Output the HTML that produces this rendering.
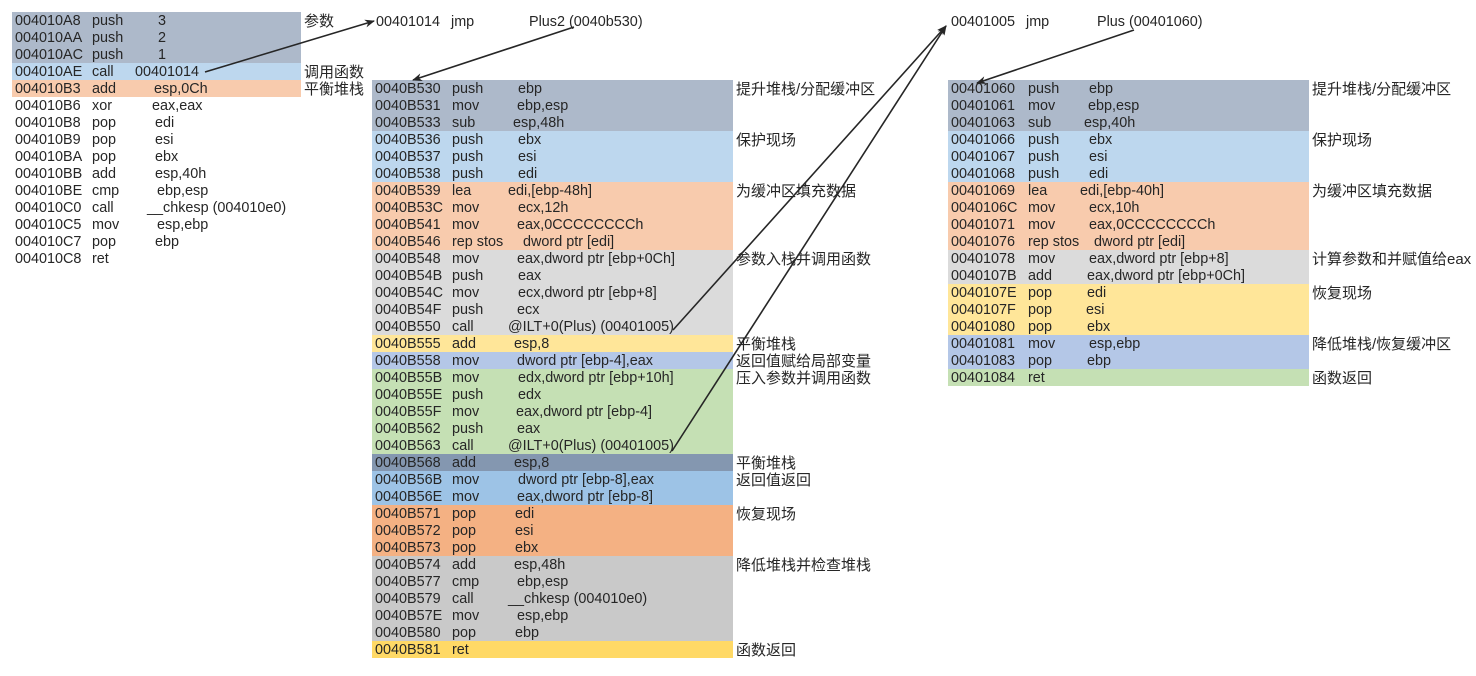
<!DOCTYPE html>
<html><head><meta charset="utf-8"><style>
body{margin:0;width:1476px;height:676px;background:#fff;position:relative;overflow:hidden;font-family:"Liberation Sans","Noto Sans CJK SC",sans-serif;font-size:14.4px;color:#262626}
.r{position:absolute;height:17px;line-height:17px;white-space:nowrap}
.r span{position:absolute;top:1px}
.a{left:3px}.m{left:80px}
.L{left:12px;width:289px}.M{left:372px;width:361px}.R{left:948px;width:361px}
.t{position:absolute;line-height:17px;white-space:nowrap;font-size:15px;margin-top:1px}
svg{position:absolute;left:0;top:0}
</style></head><body>
<!-- Left block -->
<div class="r L" style="top:12px;background:#adb9ca"><span class="a">004010A8</span><span class="m">push</span><span style="left:146px">3</span></div>
<div class="r L" style="top:29px;background:#adb9ca"><span class="a">004010AA</span><span class="m">push</span><span style="left:146px">2</span></div>
<div class="r L" style="top:46px;background:#adb9ca"><span class="a">004010AC</span><span class="m">push</span><span style="left:146px">1</span></div>
<div class="r L" style="top:63px;background:#bdd7ee"><span class="a">004010AE</span><span class="m">call</span><span style="left:123px">00401014</span></div>
<div class="r L" style="top:80px;background:#f8cbad"><span class="a">004010B3</span><span class="m">add</span><span style="left:142px">esp,0Ch</span></div>
<div class="r L" style="top:97px"><span class="a">004010B6</span><span class="m">xor</span><span style="left:140px">eax,eax</span></div>
<div class="r L" style="top:114px"><span class="a">004010B8</span><span class="m">pop</span><span style="left:143px">edi</span></div>
<div class="r L" style="top:131px"><span class="a">004010B9</span><span class="m">pop</span><span style="left:143px">esi</span></div>
<div class="r L" style="top:148px"><span class="a">004010BA</span><span class="m">pop</span><span style="left:143px">ebx</span></div>
<div class="r L" style="top:165px"><span class="a">004010BB</span><span class="m">add</span><span style="left:143px">esp,40h</span></div>
<div class="r L" style="top:182px"><span class="a">004010BE</span><span class="m">cmp</span><span style="left:145px">ebp,esp</span></div>
<div class="r L" style="top:199px"><span class="a">004010C0</span><span class="m">call</span><span style="left:135px">__chkesp (004010e0)</span></div>
<div class="r L" style="top:216px"><span class="a">004010C5</span><span class="m">mov</span><span style="left:145px">esp,ebp</span></div>
<div class="r L" style="top:233px"><span class="a">004010C7</span><span class="m">pop</span><span style="left:143px">ebp</span></div>
<div class="r L" style="top:250px"><span class="a">004010C8</span><span class="m">ret</span></div>
<div class="t" style="left:304px;top:12px">参数</div>
<div class="t" style="left:304px;top:63px">调用函数</div>
<div class="t" style="left:304px;top:80px">平衡堆栈</div>

<!-- Top labels -->
<div class="r" style="left:376px;top:13px"><span style="left:0">00401014</span><span style="left:75px">jmp</span><span style="left:153px">Plus2 (0040b530)</span></div>
<div class="r" style="left:951px;top:13px"><span style="left:0">00401005</span><span style="left:75px">jmp</span><span style="left:146px">Plus (00401060)</span></div>

<!-- Middle block -->
<div class="r M" style="top:80px;background:#adb9ca"><span class="a">0040B530</span><span class="m">push</span><span style="left:146px">ebp</span></div>
<div class="r M" style="top:97px;background:#adb9ca"><span class="a">0040B531</span><span class="m">mov</span><span style="left:145px">ebp,esp</span></div>
<div class="r M" style="top:114px;background:#adb9ca"><span class="a">0040B533</span><span class="m">sub</span><span style="left:141px">esp,48h</span></div>
<div class="r M" style="top:131px;background:#bdd7ee"><span class="a">0040B536</span><span class="m">push</span><span style="left:146px">ebx</span></div>
<div class="r M" style="top:148px;background:#bdd7ee"><span class="a">0040B537</span><span class="m">push</span><span style="left:146px">esi</span></div>
<div class="r M" style="top:165px;background:#bdd7ee"><span class="a">0040B538</span><span class="m">push</span><span style="left:146px">edi</span></div>
<div class="r M" style="top:182px;background:#f8cbad"><span class="a">0040B539</span><span class="m">lea</span><span style="left:136px">edi,[ebp-48h]</span></div>
<div class="r M" style="top:199px;background:#f8cbad"><span class="a">0040B53C</span><span class="m">mov</span><span style="left:146px">ecx,12h</span></div>
<div class="r M" style="top:216px;background:#f8cbad"><span class="a">0040B541</span><span class="m">mov</span><span style="left:145px">eax,0CCCCCCCCh</span></div>
<div class="r M" style="top:233px;background:#f8cbad"><span class="a">0040B546</span><span class="m">rep stos</span><span style="left:151px">dword ptr [edi]</span></div>
<div class="r M" style="top:250px;background:#dbdbdb"><span class="a">0040B548</span><span class="m">mov</span><span style="left:145px">eax,dword ptr [ebp+0Ch]</span></div>
<div class="r M" style="top:267px;background:#dbdbdb"><span class="a">0040B54B</span><span class="m">push</span><span style="left:146px">eax</span></div>
<div class="r M" style="top:284px;background:#dbdbdb"><span class="a">0040B54C</span><span class="m">mov</span><span style="left:146px">ecx,dword ptr [ebp+8]</span></div>
<div class="r M" style="top:301px;background:#dbdbdb"><span class="a">0040B54F</span><span class="m">push</span><span style="left:145px">ecx</span></div>
<div class="r M" style="top:318px;background:#dbdbdb"><span class="a">0040B550</span><span class="m">call</span><span style="left:136px">@ILT+0(Plus) (00401005)</span></div>
<div class="r M" style="top:335px;background:#ffe699"><span class="a">0040B555</span><span class="m">add</span><span style="left:142px">esp,8</span></div>
<div class="r M" style="top:352px;background:#b4c7e7"><span class="a">0040B558</span><span class="m">mov</span><span style="left:145px">dword ptr [ebp-4],eax</span></div>
<div class="r M" style="top:369px;background:#c5e0b4"><span class="a">0040B55B</span><span class="m">mov</span><span style="left:146px">edx,dword ptr [ebp+10h]</span></div>
<div class="r M" style="top:386px;background:#c5e0b4"><span class="a">0040B55E</span><span class="m">push</span><span style="left:146px">edx</span></div>
<div class="r M" style="top:403px;background:#c5e0b4"><span class="a">0040B55F</span><span class="m">mov</span><span style="left:144px">eax,dword ptr [ebp-4]</span></div>
<div class="r M" style="top:420px;background:#c5e0b4"><span class="a">0040B562</span><span class="m">push</span><span style="left:145px">eax</span></div>
<div class="r M" style="top:437px;background:#c5e0b4"><span class="a">0040B563</span><span class="m">call</span><span style="left:136px">@ILT+0(Plus) (00401005)</span></div>
<div class="r M" style="top:454px;background:#8497b0"><span class="a">0040B568</span><span class="m">add</span><span style="left:142px">esp,8</span></div>
<div class="r M" style="top:471px;background:#9dc3e6"><span class="a">0040B56B</span><span class="m">mov</span><span style="left:146px">dword ptr [ebp-8],eax</span></div>
<div class="r M" style="top:488px;background:#9dc3e6"><span class="a">0040B56E</span><span class="m">mov</span><span style="left:145px">eax,dword ptr [ebp-8]</span></div>
<div class="r M" style="top:505px;background:#f4b183"><span class="a">0040B571</span><span class="m">pop</span><span style="left:143px">edi</span></div>
<div class="r M" style="top:522px;background:#f4b183"><span class="a">0040B572</span><span class="m">pop</span><span style="left:143px">esi</span></div>
<div class="r M" style="top:539px;background:#f4b183"><span class="a">0040B573</span><span class="m">pop</span><span style="left:143px">ebx</span></div>
<div class="r M" style="top:556px;background:#c9c9c9"><span class="a">0040B574</span><span class="m">add</span><span style="left:142px">esp,48h</span></div>
<div class="r M" style="top:573px;background:#c9c9c9"><span class="a">0040B577</span><span class="m">cmp</span><span style="left:145px">ebp,esp</span></div>
<div class="r M" style="top:590px;background:#c9c9c9"><span class="a">0040B579</span><span class="m">call</span><span style="left:136px">__chkesp (004010e0)</span></div>
<div class="r M" style="top:607px;background:#c9c9c9"><span class="a">0040B57E</span><span class="m">mov</span><span style="left:145px">esp,ebp</span></div>
<div class="r M" style="top:624px;background:#c9c9c9"><span class="a">0040B580</span><span class="m">pop</span><span style="left:143px">ebp</span></div>
<div class="r M" style="top:641px;background:#ffd966"><span class="a">0040B581</span><span class="m">ret</span></div>
<div class="t" style="left:736px;top:80px">提升堆栈/分配缓冲区</div>
<div class="t" style="left:736px;top:131px">保护现场</div>
<div class="t" style="left:736px;top:182px">为缓冲区填充数据</div>
<div class="t" style="left:736px;top:250px">参数入栈并调用函数</div>
<div class="t" style="left:736px;top:335px">平衡堆栈</div>
<div class="t" style="left:736px;top:352px">返回值赋给局部变量</div>
<div class="t" style="left:736px;top:369px">压入参数并调用函数</div>
<div class="t" style="left:736px;top:454px">平衡堆栈</div>
<div class="t" style="left:736px;top:471px">返回值返回</div>
<div class="t" style="left:736px;top:505px">恢复现场</div>
<div class="t" style="left:736px;top:556px">降低堆栈并检查堆栈</div>
<div class="t" style="left:736px;top:641px">函数返回</div>

<!-- Right block -->
<div class="r R" style="top:80px;background:#adb9ca"><span class="a">00401060</span><span class="m">push</span><span style="left:141px">ebp</span></div>
<div class="r R" style="top:97px;background:#adb9ca"><span class="a">00401061</span><span class="m">mov</span><span style="left:140px">ebp,esp</span></div>
<div class="r R" style="top:114px;background:#adb9ca"><span class="a">00401063</span><span class="m">sub</span><span style="left:136px">esp,40h</span></div>
<div class="r R" style="top:131px;background:#bdd7ee"><span class="a">00401066</span><span class="m">push</span><span style="left:141px">ebx</span></div>
<div class="r R" style="top:148px;background:#bdd7ee"><span class="a">00401067</span><span class="m">push</span><span style="left:141px">esi</span></div>
<div class="r R" style="top:165px;background:#bdd7ee"><span class="a">00401068</span><span class="m">push</span><span style="left:141px">edi</span></div>
<div class="r R" style="top:182px;background:#f8cbad"><span class="a">00401069</span><span class="m">lea</span><span style="left:132px">edi,[ebp-40h]</span></div>
<div class="r R" style="top:199px;background:#f8cbad"><span class="a">0040106C</span><span class="m">mov</span><span style="left:141px">ecx,10h</span></div>
<div class="r R" style="top:216px;background:#f8cbad"><span class="a">00401071</span><span class="m">mov</span><span style="left:141px">eax,0CCCCCCCCh</span></div>
<div class="r R" style="top:233px;background:#f8cbad"><span class="a">00401076</span><span class="m">rep stos</span><span style="left:146px">dword ptr [edi]</span></div>
<div class="r R" style="top:250px;background:#dbdbdb"><span class="a">00401078</span><span class="m">mov</span><span style="left:141px">eax,dword ptr [ebp+8]</span></div>
<div class="r R" style="top:267px;background:#dbdbdb"><span class="a">0040107B</span><span class="m">add</span><span style="left:139px">eax,dword ptr [ebp+0Ch]</span></div>
<div class="r R" style="top:284px;background:#ffe699"><span class="a">0040107E</span><span class="m">pop</span><span style="left:139px">edi</span></div>
<div class="r R" style="top:301px;background:#ffe699"><span class="a">0040107F</span><span class="m">pop</span><span style="left:138px">esi</span></div>
<div class="r R" style="top:318px;background:#ffe699"><span class="a">00401080</span><span class="m">pop</span><span style="left:139px">ebx</span></div>
<div class="r R" style="top:335px;background:#b4c7e7"><span class="a">00401081</span><span class="m">mov</span><span style="left:141px">esp,ebp</span></div>
<div class="r R" style="top:352px;background:#b4c7e7"><span class="a">00401083</span><span class="m">pop</span><span style="left:139px">ebp</span></div>
<div class="r R" style="top:369px;background:#c5e0b4"><span class="a">00401084</span><span class="m">ret</span></div>
<div class="t" style="left:1312px;top:80px">提升堆栈/分配缓冲区</div>
<div class="t" style="left:1312px;top:131px">保护现场</div>
<div class="t" style="left:1312px;top:182px">为缓冲区填充数据</div>
<div class="t" style="left:1312px;top:250px">计算参数和并赋值给eax</div>
<div class="t" style="left:1312px;top:284px">恢复现场</div>
<div class="t" style="left:1312px;top:335px">降低堆栈/恢复缓冲区</div>
<div class="t" style="left:1312px;top:369px">函数返回</div>

<svg width="1476" height="676" viewBox="0 0 1476 676">
<defs><marker id="ah" markerWidth="10" markerHeight="8" refX="9" refY="4" orient="auto" markerUnits="userSpaceOnUse"><path d="M0,0 L10,4 L0,8 L3,4 Z" fill="#262626"/></marker></defs>
<g stroke="#262626" stroke-width="1.6" fill="none" marker-end="url(#ah)">
<line x1="205" y1="72" x2="374" y2="21"/>
<line x1="574" y1="27" x2="413" y2="80"/>
<line x1="673" y1="330" x2="946" y2="26"/>
<line x1="672" y1="451" x2="946" y2="26"/>
<line x1="1134" y1="30" x2="977" y2="83"/>
</g>
</svg>
</body></html>
